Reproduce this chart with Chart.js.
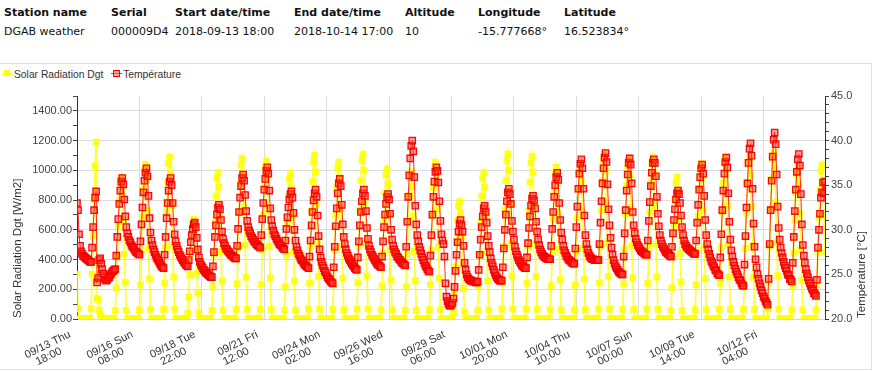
<!DOCTYPE html>
<html>
<head>
<meta charset="utf-8">
<script src="https://cdn.jsdelivr.net/npm/chart.js@4.4.0/dist/chart.umd.min.js"></script>
<style>
  body { margin: 0; background: #fff; }
  #wrap { position: relative; width: 890px; height: 372px; overflow: hidden; }
  #chart { position: absolute; left: 0; top: 0; }
  .hd { position: absolute; font-family: "DejaVu Sans", sans-serif; font-size: 11px; line-height: 13px; color: #111; white-space: nowrap; }
  .hd.b { font-weight: bold; }
  #panel { position: absolute; left: -1px; top: 63px; width: 871px; height: 305px; border: 1px solid #e2e2e2; }
  #legend { position: absolute; left: 2px; top: 69px; font-family: "Liberation Sans", Arial, sans-serif; font-size: 10.3px; color: #333; white-space: nowrap; }
  .key { display: inline-block; position: relative; width: 11px; height: 10px; vertical-align: -1px; margin-right: 1px; }
  .key i { position: absolute; left: 0; top: 4px; width: 11px; height: 2px; }
  .key b { position: absolute; left: 2px; top: 1px; width: 6px; height: 6px; }
</style>
</head>
<body>
<div id="wrap">
  <div id="panel"></div>
  <div id="head"></div>
  <div id="legend">
    <span class="key"><i style="background:#ffff40"></i><b style="background:#ffff00"></b></span>Solar Radiation Dgt
    <span class="key" style="margin-left:5px"><i style="background:#ff3030;height:1px;top:4px"></i><b style="border:1px solid #ff0000;background:rgba(255,90,90,0.5);width:5px;height:5px;left:2px"></b></span>Température
  </div>
  <canvas id="chart" width="890" height="372"></canvas>
</div>
<script>
// station header
const headerNames = ["Station name", "Serial", "Start date/time", "End date/time", "Altitude", "Longitude", "Latitude"];
const headerValues = ["DGAB weather", "000009D4", "2018-09-13 18:00", "2018-10-14 17:00", "10", "-15.777668°", "16.523834°"];
const headerX = [4, 111, 175, 294, 405, 478, 564];

// x axis tick labels, one every 62 hours
const tickStep = 62;
const tickLabels = [
    ["09/13 Thu", "18:00"], ["09/16 Sun", "08:00"], ["09/18 Tue", "22:00"], ["09/21 Fri", "12:00"],
    ["09/24 Mon", "02:00"], ["09/26 Wed", "16:00"], ["09/29 Sat", "06:00"], ["10/01 Mon", "20:00"],
    ["10/04 Thu", "10:00"], ["10/07 Sun", "00:00"], ["10/09 Tue", "14:00"], ["10/12 Fri", "04:00"],
];

// hourly values, 2018-09-13 18:00 .. 2018-10-14 17:00, one line per day
const solarRadiation = [
    300, 70, 0, 0, 0, 0,
    0, 0, 0, 0, 0, 0, 0, 5, 70, 300, 560, 800, 1030, 1190, 140, 130, 60, 30, 10, 0, 0, 0, 0, 0,
    0, 0, 0, 0, 0, 0, 0, 5, 57, 209, 418, 627, 798, 912, 950, 855, 665, 437, 247, 57, 0, 0, 0, 0,
    0, 0, 0, 0, 0, 0, 0, 5, 62, 229, 458, 686, 874, 998, 1040, 936, 728, 478, 270, 62, 0, 0, 0, 0,
    0, 0, 0, 0, 0, 0, 0, 5, 65, 240, 480, 719, 916, 1046, 1090, 981, 763, 501, 283, 65, 0, 0, 0, 0,
    0, 0, 0, 0, 0, 0, 0, 3, 40, 147, 295, 442, 563, 643, 670, 603, 469, 308, 174, 40, 0, 0, 0, 0,
    0, 0, 0, 0, 0, 0, 0, 5, 59, 217, 433, 650, 827, 946, 985, 887, 690, 453, 256, 59, 0, 0, 0, 0,
    0, 0, 0, 0, 0, 0, 0, 5, 65, 238, 475, 713, 907, 1037, 1080, 972, 756, 497, 281, 65, 0, 0, 0, 0,
    0, 0, 0, 0, 0, 0, 0, 5, 64, 233, 466, 700, 890, 1018, 1060, 954, 742, 488, 276, 64, 0, 0, 0, 0,
    0, 0, 0, 0, 0, 0, 0, 5, 59, 216, 431, 647, 823, 941, 980, 882, 686, 451, 255, 59, 0, 0, 0, 0,
    0, 0, 0, 0, 0, 0, 0, 6, 66, 242, 484, 726, 924, 1056, 1100, 990, 770, 506, 286, 66, 0, 0, 0, 0,
    0, 0, 0, 0, 0, 0, 0, 5, 63, 232, 464, 696, 886, 1013, 1055, 950, 739, 485, 274, 63, 0, 0, 0, 0,
    0, 0, 0, 0, 0, 0, 0, 6, 67, 244, 488, 733, 932, 1066, 1110, 999, 777, 511, 289, 67, 0, 0, 0, 0,
    0, 0, 0, 0, 0, 0, 0, 5, 61, 222, 444, 667, 848, 970, 1010, 909, 707, 465, 263, 61, 0, 0, 0, 0,
    0, 0, 0, 0, 0, 0, 0, 5, 59, 218, 436, 653, 832, 950, 990, 891, 693, 455, 257, 59, 0, 0, 0, 0,
    0, 0, 0, 0, 0, 0, 0, 5, 63, 232, 464, 696, 886, 1013, 1055, 950, 739, 485, 274, 63, 0, 0, 0, 0,
    0, 0, 0, 0, 0, 0, 0, 4, 47, 174, 348, 521, 664, 758, 790, 711, 553, 363, 205, 47, 0, 0, 0, 0,
    0, 0, 0, 0, 0, 0, 0, 5, 59, 217, 433, 650, 827, 946, 985, 887, 690, 453, 256, 59, 0, 0, 0, 0,
    0, 0, 0, 0, 0, 0, 0, 6, 67, 244, 488, 733, 932, 1066, 1110, 999, 777, 511, 289, 67, 0, 0, 0, 0,
    0, 0, 0, 0, 0, 0, 0, 5, 66, 241, 482, 723, 920, 1051, 1095, 986, 767, 504, 285, 66, 0, 0, 0, 0,
    0, 0, 0, 0, 0, 0, 0, 5, 61, 224, 449, 673, 857, 979, 1020, 918, 714, 469, 265, 61, 0, 0, 0, 0,
    0, 0, 0, 0, 0, 0, 0, 5, 62, 227, 453, 680, 865, 989, 1030, 927, 721, 474, 268, 62, 0, 0, 0, 0,
    0, 0, 0, 0, 0, 0, 0, 6, 66, 243, 486, 729, 928, 1061, 1105, 995, 774, 508, 287, 66, 0, 0, 0, 0,
    0, 0, 0, 0, 0, 0, 0, 5, 64, 235, 471, 706, 899, 1027, 1070, 963, 749, 492, 278, 64, 0, 0, 0, 0,
    0, 0, 0, 0, 0, 0, 0, 5, 65, 240, 480, 719, 916, 1046, 1090, 981, 763, 501, 283, 65, 0, 0, 0, 0,
    0, 0, 0, 0, 0, 0, 0, 5, 57, 210, 420, 630, 802, 917, 955, 860, 669, 439, 248, 57, 0, 0, 0, 0,
    0, 0, 0, 0, 0, 0, 0, 5, 63, 230, 460, 690, 878, 1003, 1045, 941, 732, 481, 272, 63, 0, 0, 0, 0,
    0, 0, 0, 0, 0, 0, 0, 5, 65, 240, 479, 720, 915, 1046, 1090, 981, 763, 501, 283, 65, 0, 0, 0, 0,
    0, 0, 0, 0, 0, 0, 0, 5, 65, 238, 475, 713, 907, 1037, 1080, 972, 756, 497, 281, 65, 0, 0, 0, 0,
    0, 0, 0, 0, 0, 0, 0, 6, 67, 246, 493, 739, 941, 1075, 1120, 1008, 784, 515, 291, 67, 0, 0, 0, 0,
    0, 0, 0, 0, 0, 0, 0, 5, 61, 222, 444, 667, 848, 970, 1010, 909, 707, 465, 263, 61, 0, 0, 0, 0,
    0, 0, 0, 0, 0, 0, 0, 5, 62, 228, 456, 684, 870, 995, 1036, 930, 700, 450,
];

const temperature = [
    33.0, 32.2, 29.5, 28.2, 27.6, 27.3,
    27.1, 27.0, 26.9, 26.8, 26.7, 26.6, 26.5, 26.4, 26.4, 28.0, 30.3, 32.2, 33.6, 34.3, 24.1, 24.6, 26.6, 26.8, 26.2, 25.6, 25.1, 24.7, 24.4, 24.3,
    24.4, 24.6, 24.7, 24.9, 25.1, 25.3, 25.4, 25.5, 25.6, 27.1, 29.2, 31.2, 32.9, 34.4, 35.4, 35.8, 35.1, 33.4, 31.5, 30.3, 29.6, 29.2, 28.8, 28.6,
    28.3, 28.1, 28.0, 27.8, 27.6, 27.5, 27.4, 27.3, 27.2, 28.7, 30.6, 32.5, 34.2, 35.5, 36.4, 36.9, 36.0, 33.8, 31.3, 29.7, 28.8, 28.3, 27.8, 27.5,
    27.2, 26.9, 26.7, 26.5, 26.3, 26.1, 25.9, 25.8, 25.7, 27.2, 29.2, 31.3, 33.0, 34.4, 35.4, 35.8, 35.0, 33.0, 30.9, 29.5, 28.7, 28.2, 27.8, 27.5,
    27.2, 27.0, 26.8, 26.6, 26.4, 26.3, 26.1, 26.0, 25.9, 26.6, 27.6, 28.6, 29.4, 30.1, 30.6, 30.8, 30.3, 29.1, 27.8, 26.9, 26.4, 26.1, 25.9, 25.7,
    25.5, 25.4, 25.2, 25.1, 25.0, 24.9, 24.8, 24.7, 24.7, 25.9, 27.5, 29.2, 30.5, 31.7, 32.5, 32.8, 32.3, 31.1, 29.8, 29.0, 28.5, 28.2, 27.9, 27.8,
    27.6, 27.5, 27.3, 27.2, 27.1, 27.0, 26.9, 26.8, 26.8, 28.2, 30.1, 32.0, 33.6, 34.9, 35.8, 36.2, 35.5, 33.9, 32.1, 31.0, 30.3, 29.9, 29.6, 29.3,
    29.1, 28.9, 28.7, 28.6, 28.4, 28.3, 28.2, 28.1, 28.0, 29.4, 31.2, 33.0, 34.5, 35.7, 36.6, 37.0, 36.3, 34.4, 32.4, 31.1, 30.4, 29.9, 29.5, 29.3,
    29.0, 28.8, 28.6, 28.4, 28.3, 28.2, 28.0, 27.9, 27.8, 28.8, 30.1, 31.4, 32.5, 33.4, 34.0, 34.3, 33.6, 31.9, 30.0, 28.8, 28.1, 27.7, 27.3, 27.1,
    26.8, 26.6, 26.5, 26.3, 26.1, 26.0, 25.9, 25.8, 25.7, 27.0, 28.8, 30.5, 32.0, 33.3, 34.1, 34.5, 33.7, 31.6, 29.3, 27.8, 26.9, 26.4, 26.0, 25.7,
    25.4, 25.2, 24.9, 24.7, 24.5, 24.4, 24.2, 24.1, 24.0, 25.8, 28.1, 30.4, 32.4, 34.1, 35.2, 35.7, 34.9, 32.8, 30.6, 29.2, 28.4, 27.8, 27.4, 27.1,
    26.8, 26.6, 26.4, 26.2, 26.0, 25.9, 25.7, 25.6, 25.5, 26.9, 28.7, 30.5, 32.0, 33.2, 34.1, 34.5, 33.8, 32.1, 30.2, 29.0, 28.2, 27.8, 27.5, 27.2,
    27.0, 26.8, 26.6, 26.4, 26.2, 26.1, 26.0, 25.9, 25.8, 27.0, 28.7, 30.3, 31.7, 32.9, 33.7, 34.0, 33.4, 31.8, 30.0, 28.9, 28.2, 27.8, 27.5, 27.3,
    27.0, 26.9, 26.7, 26.6, 26.4, 26.3, 26.2, 26.1, 26.0, 28.1, 30.9, 33.7, 36.1, 38.0, 39.4, 40.0, 38.8, 35.9, 32.7, 30.6, 29.4, 28.7, 28.1, 27.7,
    27.3, 26.9, 26.6, 26.3, 26.0, 25.8, 25.6, 25.4, 25.3, 27.1, 29.4, 31.7, 33.7, 35.4, 36.5, 37.0, 36.6, 35.3, 33.2, 31.0, 29.5, 28.8, 28.4, 27.0,
    24.0, 22.5, 22.0, 21.7, 21.5, 21.5, 21.6, 21.8, 22.3, 23.6, 25.4, 27.2, 28.6, 29.8, 30.7, 31.1, 30.5, 29.8, 28.2, 26.3, 25.5, 25.0, 24.7, 24.5,
    24.4, 24.3, 24.3, 24.2, 24.2, 24.2, 24.1, 24.1, 24.2, 25.5, 27.2, 28.9, 30.3, 31.5, 32.4, 32.7, 32.0, 30.8, 29.3, 28.2, 27.5, 26.8, 26.3, 25.9,
    25.5, 25.2, 24.9, 24.7, 24.5, 24.4, 24.3, 24.3, 24.3, 25.8, 27.9, 30.0, 31.7, 33.2, 34.2, 34.6, 34.0, 32.9, 31.0, 29.8, 28.9, 28.1, 27.6, 27.2,
    26.9, 26.6, 26.4, 26.2, 26.0, 25.9, 25.8, 25.7, 25.7, 26.9, 28.5, 30.2, 31.5, 32.7, 33.5, 33.8, 33.3, 32.4, 30.9, 29.8, 28.9, 28.3, 27.8, 27.5,
    27.3, 27.1, 27.0, 26.9, 26.8, 26.8, 26.7, 26.7, 26.7, 28.2, 30.1, 32.0, 33.7, 35.0, 35.9, 36.4, 35.6, 33.0, 31.1, 29.7, 28.9, 28.2, 27.7, 27.4,
    27.1, 26.9, 26.7, 26.6, 26.5, 26.4, 26.3, 26.2, 26.2, 27.9, 30.3, 32.6, 34.6, 36.3, 37.4, 37.9, 36.9, 34.6, 31.6, 29.4, 28.4, 27.8, 27.4, 27.1,
    26.9, 26.8, 26.7, 26.7, 26.6, 26.6, 26.6, 26.6, 26.6, 28.4, 30.8, 33.2, 35.2, 36.9, 38.1, 38.6, 37.6, 35.1, 32.3, 30.5, 29.1, 28.0, 27.2, 26.6,
    26.2, 25.9, 25.7, 25.5, 25.3, 25.2, 25.1, 25.0, 25.0, 27.0, 29.6, 32.2, 34.4, 36.2, 37.5, 38.0, 37.3, 35.2, 32.0, 30.5, 29.6, 29.0, 28.6, 28.3,
    28.1, 27.9, 27.7, 27.6, 27.5, 27.4, 27.3, 27.2, 27.2, 28.8, 31.0, 33.1, 34.9, 36.4, 37.5, 37.9, 37.5, 36.0, 33.7, 31.8, 30.4, 29.4, 28.8, 28.4,
    28.1, 27.9, 27.7, 27.5, 27.4, 27.3, 27.2, 27.1, 27.0, 28.1, 29.6, 31.1, 32.3, 33.4, 34.1, 34.4, 34.0, 33.0, 31.6, 30.3, 29.4, 28.8, 28.4, 28.2,
    28.0, 27.9, 27.8, 27.7, 27.6, 27.5, 27.4, 27.3, 27.3, 28.8, 30.8, 32.8, 34.5, 35.9, 36.9, 37.3, 36.3, 33.8, 31.1, 29.4, 28.4, 27.8, 27.3, 26.9,
    26.5, 26.3, 26.0, 25.8, 25.5, 25.4, 25.1, 25.0, 24.9, 26.9, 29.5, 32.2, 34.4, 36.3, 37.6, 38.1, 37.0, 34.1, 30.9, 28.9, 27.7, 27.0, 26.4, 26.0,
    25.6, 25.3, 25.0, 24.7, 24.4, 24.3, 24.0, 23.8, 23.7, 26.1, 29.3, 32.5, 35.2, 37.5, 39.1, 39.7, 38.3, 34.6, 30.7, 28.1, 26.7, 25.8, 25.0, 24.5,
    24.0, 23.6, 23.2, 22.9, 22.5, 22.3, 22.0, 21.8, 21.6, 24.5, 28.4, 32.2, 35.5, 38.2, 40.1, 40.9, 39.6, 36.2, 32.6, 30.2, 28.9, 28.0, 27.4, 26.9,
    26.4, 26.0, 25.7, 25.4, 25.0, 24.9, 24.5, 24.4, 24.2, 26.3, 29.2, 32.1, 34.5, 36.5, 37.9, 38.5, 37.2, 34.0, 30.6, 28.3, 27.1, 26.3, 25.6, 25.1,
    24.7, 24.3, 24.0, 23.7, 23.4, 23.2, 22.9, 22.8, 22.6, 24.4, 28.0, 30.0, 31.8, 33.6, 34.2, 35.3, 34.1, 35.4,
];

// header table
const head = document.getElementById("head");
headerNames.forEach((name, i) => {
    head.insertAdjacentHTML("beforeend",
        `<div class="hd b" style="left:${headerX[i]}px;top:6px">${name}</div>` +
        `<div class="hd" style="left:${headerX[i]}px;top:25px">${headerValues[i]}</div>`);
});

const tickFont = { family: '"Liberation Sans", Arial, sans-serif', size: 11 };

// rotated axis titles, both reading upwards from the bottom of the plot
const axisTitles = {
    id: "axisTitles",
    afterDraw(chart) {
        const { ctx, chartArea } = chart;
        ctx.save();
        ctx.font = '11.5px "Liberation Sans", Arial, sans-serif';
        ctx.fillStyle = "#333";
        ctx.textAlign = "left";
        ctx.textBaseline = "middle";
        [[18, "Solar Radiation Dgt [W/m2]"], [862, "Température [°C]"]].forEach(([x, text]) => {
            ctx.save();
            ctx.translate(x, chartArea.bottom - 1);
            ctx.rotate(-Math.PI / 2);
            ctx.fillText(text, 0, 0);
            ctx.restore();
        });
        ctx.restore();
    },
};

const ctx = document.getElementById("chart");
const chart = new Chart(ctx, {
    type: "line",
    data: {
        datasets: [
            {
                label: "Température",
                data: temperature.map((v, i) => ({ x: i, y: v })),
                yAxisID: "y1",
                order: 0,
                borderColor: "rgba(255, 0, 0, 0.85)",
                borderWidth: 1,
                pointStyle: "rect",
                pointRadius: 4.5,
                pointBorderWidth: 1.3,
                pointBorderColor: "rgba(245, 0, 0, 0.95)",
                pointBackgroundColor: "rgba(255, 60, 40, 0.5)",
            },
            {
                label: "Solar Radiation Dgt",
                data: solarRadiation.map((v, i) => ({ x: i, y: v })),
                yAxisID: "y",
                order: 1,
                borderColor: "rgba(255, 255, 0, 0.75)",
                borderWidth: 1.8,
                pointStyle: "rect",
                pointRadius: 4.8,
                pointBorderWidth: 0,
                pointBackgroundColor: "rgba(255, 255, 0, 0.85)",
            },
        ],
    },
    options: {
        responsive: false,
        animation: false,
        layout: { padding: { top: 96, left: 0, right: 0, bottom: 0 } },
        plugins: { legend: { display: false }, tooltip: { enabled: false } },
        scales: {
            x: {
                type: "linear",
                min: 0,
                max: 743,
                afterFit: (scale) => { scale.height = 53; },
                afterBuildTicks: (scale) => {
                    scale.ticks = tickLabels.map((_, i) => ({ value: i * tickStep }));
                },
                border: { color: "#d8d8d8" },
                grid: { color: "#dcdcdc", drawTicks: false },
                ticks: {
                    autoSkip: false,
                    maxRotation: 26,
                    minRotation: 26,
                    padding: 10,
                    labelOffset: -7,
                    color: "#333",
                    font: { ...tickFont, lineHeight: 1.0 },
                    // second line padded so it starts a little after the first one
                    callback: (v) => {
                        const label = tickLabels[Math.round(v / tickStep)];
                        return label ? [label[0], label[1] + "     "] : undefined;
                    },
                },
            },
            y: {
                position: "left",
                min: 0,
                max: 1500,
                afterFit: (scale) => { scale.width = 77; },
                border: { color: "#333" },
                grid: {
                    color: (c) => (c.tick && c.tick.value % 200 === 0 ? "#dcdcdc" : "rgba(0,0,0,0)"),
                    tickColor: "#444",
                    tickLength: 4,
                },
                ticks: {
                    stepSize: 100,
                    autoSkip: false,
                    padding: 1,
                    color: "#444",
                    font: tickFont,
                    callback: (v) => (v % 200 === 0 ? v.toFixed(2) : ""),
                },
            },
            y1: {
                position: "right",
                min: 20,
                max: 45,
                afterFit: (scale) => { scale.width = 65; },
                border: { color: "#333" },
                grid: { drawOnChartArea: false, tickColor: "#444", tickLength: 4 },
                ticks: {
                    stepSize: 1,
                    autoSkip: false,
                    padding: 2,
                    color: "#444",
                    font: tickFont,
                    callback: (v) => (v % 5 === 0 ? v.toFixed(1) : ""),
                },
            },
        },
    },
    plugins: [axisTitles],
});
</script>
</body>
</html>
